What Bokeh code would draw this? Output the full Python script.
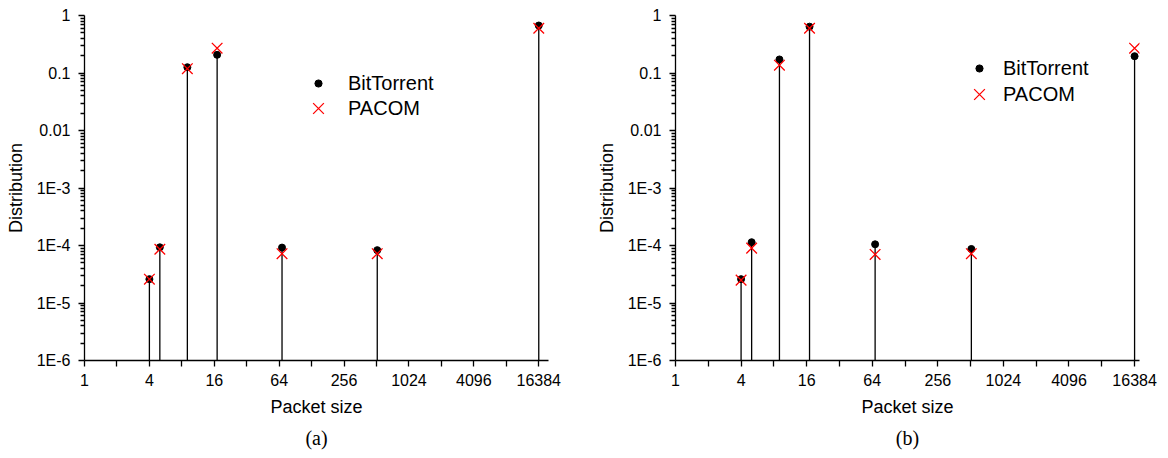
from bokeh.plotting import figure
from bokeh.models import FixedTicker, Legend, LegendItem, Title
from bokeh.layouts import row
from bokeh.embed import file_html
from bokeh.resources import INLINE

# Packet size distribution: BitTorrent trace vs. PACOM model, two scenarios
packet_sizes = [4, 5, 9, 17, 68, 520, 16384]

bittorrent_a = [2.6e-5, 9.3e-5, 0.126, 0.207, 9.2e-5, 8.3e-5, 0.67]
pacom_a = [2.6e-5, 8.6e-5, 0.119, 0.27, 7.2e-5, 7.2e-5, 0.60]

bittorrent_b = [2.6e-5, 1.14e-4, 0.172, 0.64, 1.05e-4, 8.7e-5, 0.196]
pacom_b = [2.5e-5, 9.0e-5, 0.137, 0.60, 7.0e-5, 7.2e-5, 0.27]

x_ticks = [1, 4, 16, 64, 256, 1024, 4096, 16384]
x_tick_labels = ["1", "4", "16", "64", "256", "1024", "4096", "16384"]
x_minor_ticks = [2, 8, 32, 128, 512, 2048, 8192]

y_ticks = [1e-6, 1e-5, 1e-4, 1e-3, 0.01, 0.1, 1]
y_tick_labels = ["1E-6", "1E-5", "1E-4", "1E-3", "0.01", "0.1", "1"]
y_minor_ticks = [k * 10.0 ** e for e in range(-6, 0) for k in range(2, 10)]

SANS = "Liberation Sans"
SERIF = "Liberation Serif"
Y_FLOOR = 1e-6


def make_panel(bt, pc, tag, border_left, border_right, x_end, leg_dot, leg_x):
    p = figure(
        width=584, height=458,
        x_axis_type="log", y_axis_type="log",
        x_range=(1, x_end), y_range=(Y_FLOOR, 1),
        output_backend="svg", toolbar_location=None,
        min_border_left=border_left, min_border_right=border_right,
        min_border_top=15, min_border_bottom=98,
        x_axis_label="Packet size", y_axis_label="Distribution",
    )
    p.outline_line_color = None
    p.grid.visible = False
    p.background_fill_color = "white"
    p.border_fill_color = "white"

    # stems from the axis floor up to each BitTorrent value
    p.segment(x0=packet_sizes, y0=[Y_FLOOR] * len(packet_sizes),
              x1=packet_sizes, y1=bt, line_color="black", line_width=1.3)
    r_bt = p.scatter(packet_sizes, bt, marker="circle", size=7,
                     fill_color="black", line_color="black")
    r_pc = p.scatter(packet_sizes, pc, marker="x", size=15,
                     line_color="red", line_width=1.3)

    xa = p.xaxis[0]
    xa.ticker = FixedTicker(ticks=x_ticks, minor_ticks=x_minor_ticks)
    xa.major_label_overrides = dict(zip(x_ticks, x_tick_labels))
    xa.major_tick_in = 0
    xa.major_tick_out = 6
    xa.minor_tick_in = 0
    xa.minor_tick_out = 6
    xa.major_label_standoff = 7
    xa.axis_label_standoff = 8

    ya = p.yaxis[0]
    ya.ticker = FixedTicker(ticks=y_ticks, minor_ticks=y_minor_ticks)
    ya.major_label_overrides = dict(zip(y_ticks, y_tick_labels))
    ya.major_tick_in = 0
    ya.major_tick_out = 6
    ya.minor_tick_in = 0
    ya.minor_tick_out = 4
    ya.major_label_standoff = 8
    ya.axis_label_standoff = 8

    for ax in (xa, ya):
        ax.axis_line_color = "black"
        ax.axis_line_width = 1.3
        ax.major_tick_line_color = "black"
        ax.major_tick_line_width = 1.3
        ax.minor_tick_line_color = "black"
        ax.minor_tick_line_width = 1.3
        ax.major_label_text_font = SANS
        ax.major_label_text_font_size = "16px"
        ax.major_label_text_color = "black"
        ax.axis_label_text_font = SANS
        ax.axis_label_text_font_size = "18px"
        ax.axis_label_text_font_style = "normal"
        ax.axis_label_text_color = "black"

    # one legend per entry so each marker keeps its own size
    common = dict(padding=0, margin=0, spacing=0, border_line_color=None,
                  background_fill_alpha=0, label_text_font=SANS,
                  label_text_font_size="20px", label_text_color="black")
    p.add_layout(Legend(items=[LegendItem(label="BitTorrent", renderers=[r_bt])],
                        location=leg_dot[0], label_standoff=leg_dot[1],
                        glyph_width=18, glyph_height=24, label_height=24,
                        **common))
    p.add_layout(Legend(items=[LegendItem(label="PACOM", renderers=[r_pc])],
                        location=leg_x[0], label_standoff=leg_x[1],
                        glyph_width=38, glyph_height=38, label_height=38,
                        **common))

    p.add_layout(Title(text=tag, align="center", text_font=SERIF,
                       text_font_size="20px", text_font_style="normal",
                       text_color="black"), "below")
    return p


pa = make_panel(bittorrent_a, pacom_a, "(a)", 84, 36, 2 ** 14.3,
                ((225, 265), 21), ((215, 233), 11))
pb = make_panel(bittorrent_b, pacom_b, "(b)", 91, 29, 2 ** 14.15,
                ((295, 280), 15), ((285, 247), 5))

layout = row(pa, pb)
open("out.html", "w").write(file_html(layout, INLINE))
